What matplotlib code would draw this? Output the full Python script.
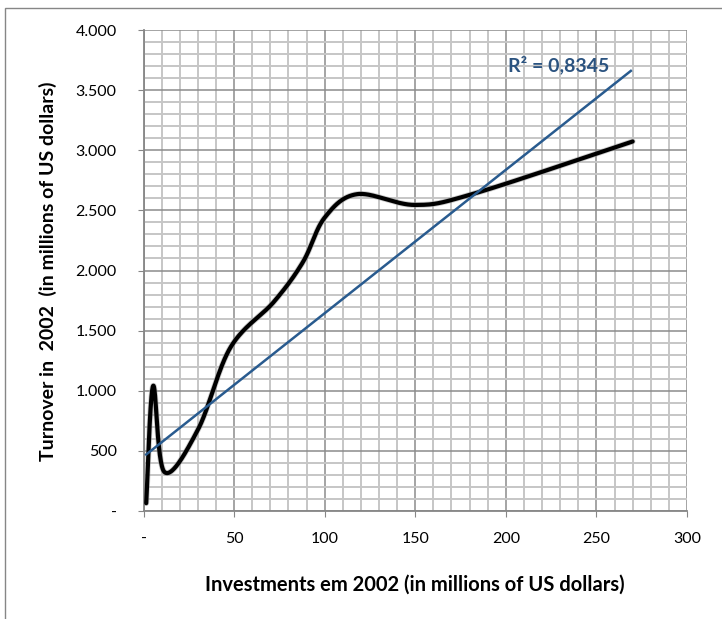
import numpy as np
import matplotlib
matplotlib.use("Agg")
import matplotlib.pyplot as plt
from matplotlib.ticker import MultipleLocator, FixedLocator, FixedFormatter
from matplotlib.patches import Rectangle

# ---- data ----
investments = [1.5, 5.3, 11.5, 30, 48, 72, 88, 100, 118, 150, 183, 270]
turnover = [65, 1040, 325, 675, 1360, 1740, 2070, 2440, 2635, 2545, 2642, 3073]
trend_x = [1.5, 269]
trend_y = [470, 3660]
r2_text = "R² = 0,8345"
x_ticks = [0, 50, 100, 150, 200, 250, 300]
x_labels = ["-", "50", "100", "150", "200", "250", "300"]
y_ticks = [0, 500, 1000, 1500, 2000, 2500, 3000, 3500, 4000]
y_labels = ["-", "500", "1.000", "1.500", "2.000", "2.500", "3.000", "3.500", "4.000"]
x_title = "Investments em 2002 (in millions of US dollars)"
y_title = "Turnover in  2002  (in millions of US dollars)"

plt.rcParams['font.family'] = ['Lato', 'DejaVu Sans']

W, H = 722, 619
fig = plt.figure(figsize=(W / 100, H / 100), dpi=100)
ax = fig.add_axes([143.5 / W, 1 - 511 / H, (687 - 143.5) / W, (511 - 30) / H])

ax.set_xlim(0, 300)
ax.set_ylim(0, 4000)

# grid
ax.xaxis.set_major_locator(FixedLocator(x_ticks))
ax.xaxis.set_major_formatter(FixedFormatter(x_labels))
ax.yaxis.set_major_locator(FixedLocator(y_ticks))
ax.yaxis.set_major_formatter(FixedFormatter(y_labels))
ax.xaxis.set_minor_locator(MultipleLocator(10))
ax.yaxis.set_minor_locator(MultipleLocator(100))
ax.grid(which='minor', color='#c6c6c6', linewidth=1.4, zorder=0)
ax.grid(which='major', color='#8c8c8c', linewidth=1.1, zorder=0.5)
ax.set_axisbelow(True)

for s in ['top', 'right']:
    ax.spines[s].set_visible(False)
for s in ['left', 'bottom']:
    ax.spines[s].set_color('#868686')
    ax.spines[s].set_linewidth(1.3)

ax.tick_params(which='minor', length=0)
ax.tick_params(axis='y', which='major', length=4.3, color='#868686', pad=15,
               labelsize=11.5)
ax.tick_params(axis='x', which='major', length=4.3, color='#868686', pad=11,
               labelsize=11.5)

# smoothed curve (Excel-style Bezier through points) in display space
fig.canvas.draw()
pts = ax.transData.transform(np.column_stack([investments, turnover]))
n = len(pts)
curve = []
t = np.linspace(0, 1, 50)
for i in range(n - 1):
    p0 = pts[i]
    p3 = pts[i + 1]
    pm = pts[i - 1] if i > 0 else pts[i]
    pp = pts[i + 2] if i + 2 < n else pts[i + 1]
    c1 = p0 + (p3 - pm) / 6.0
    c2 = p3 - (pp - p0) / 6.0
    seg = ((1 - t)[:, None] ** 3 * p0 + 3 * ((1 - t) ** 2 * t)[:, None] * c1
           + 3 * ((1 - t) * t ** 2)[:, None] * c2 + (t ** 3)[:, None] * p3)
    curve.append(seg)
curve = np.vstack(curve)
curve_data = ax.transData.inverted().transform(curve)

ax.plot(curve_data[:, 0], curve_data[:, 1], color='#9a9a9a', linewidth=4.2,
        alpha=0.5, zorder=2, solid_capstyle='round')
ax.plot(curve_data[:, 0], curve_data[:, 1], color='black', linewidth=3.0,
        zorder=3, solid_capstyle='round')

# trend line
ax.plot(trend_x, trend_y, color='#295b8f', linewidth=1.8, zorder=4)
ax.text(229, 3709, r2_text, color='#2b5380', fontsize=14, fontweight='bold',
        ha='center', va='center')

ax.set_xlabel(x_title, fontsize=14.5, fontweight='bold')
ax.xaxis.set_label_coords((415 - 143.5) / 543.5, (511 - 585) / 481)
ax.xaxis.label.set_va('center')
ax.set_ylabel(y_title, fontsize=14, fontweight='bold')
ax.yaxis.set_label_coords((48 - 143.5) / 543.5, (511 - 271) / 481)
ax.yaxis.label.set_va('center')

# chart border
fig.add_artist(Rectangle((5 / W, -0.1), 1.2, 1 - 8 / H + 0.1, transform=fig.transFigure,
                         fill=False, edgecolor='#868686', linewidth=1.0))

fig.savefig('out.png', dpi=100)
